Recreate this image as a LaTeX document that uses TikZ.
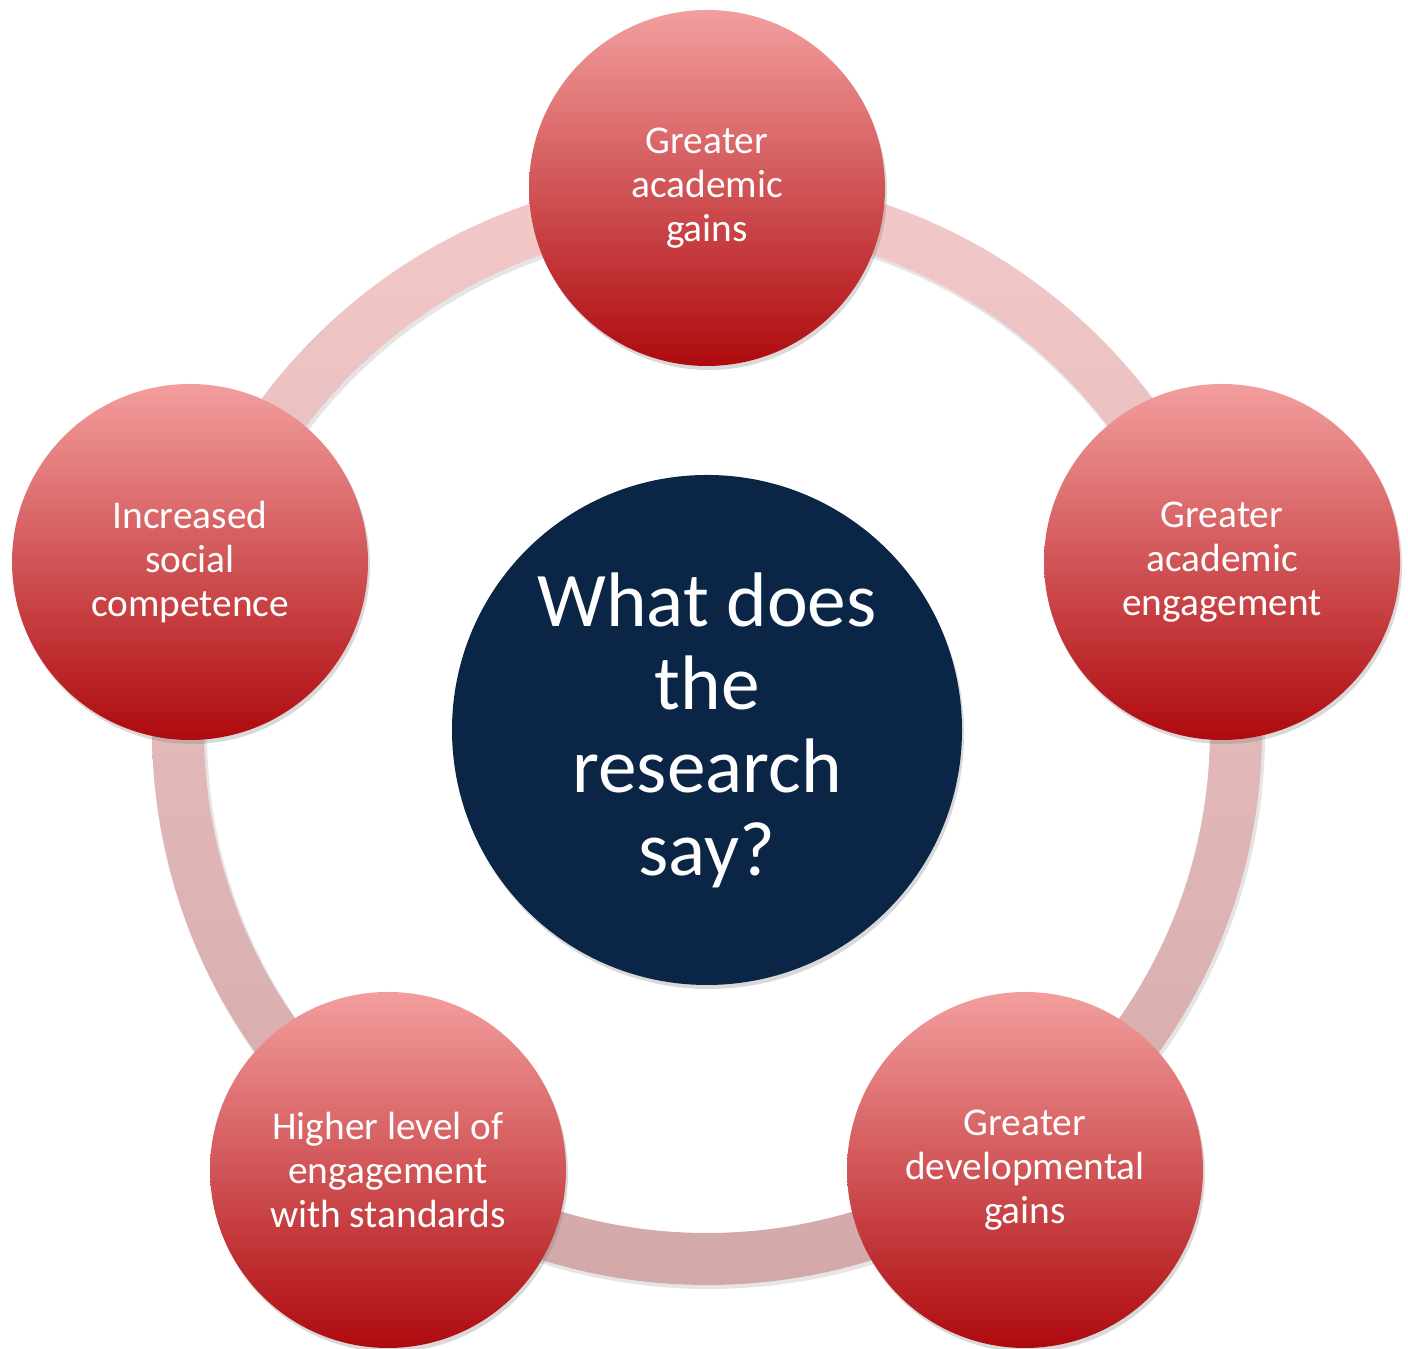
\documentclass[tikz,border=0pt]{standalone}
\usepackage{fontspec}
\setmainfont{Carlito}
\usepackage{tikz}
\usetikzlibrary{shadows}

\definecolor{navy}{HTML}{0B2546}
\definecolor{bubtop}{HTML}{F39E9E}
\definecolor{bubmid}{HTML}{DA7A7A}
\definecolor{bubbot}{HTML}{AE0A0E}
\definecolor{ringtop}{HTML}{F3C8C8}
\definecolor{ringbot}{HTML}{D2A8A8}

\tikzset{
  bubble/.style={shape=circle, minimum size=3.56cm, inner sep=0pt,
    top color=bubtop, middle color=bubmid, bottom color=bubbot,
    text=white, align=center,
    font=\fontsize{11.2}{12.5}\selectfont,
    drop shadow={shadow xshift=0.02cm, shadow yshift=-0.04cm, opacity=0.3}},
  hub/.style={shape=circle, minimum size=5.1cm, inner sep=0pt,
    fill=navy, text=white, align=center,
    font=\fontsize{22}{23.6}\selectfont,
    drop shadow={shadow xshift=0.02cm, shadow yshift=-0.04cm, opacity=0.3}}
}

\begin{document}
\begin{tikzpicture}
  \useasboundingbox (0,0) rectangle (14.08,13.49);

  % ring behind the bubbles
  \fill[black, opacity=0.1, even odd rule] (7.09,6.16) circle (5.56) circle (5.02);
  \shade[top color=ringtop, bottom color=ringbot, even odd rule] (7.07,6.19) circle (5.55) circle (5.03);

  \node[hub] (say) at (7.07,6.19) {What does\\the\\research\\say?};

  \node[bubble] (acad) at (7.07,11.61) {Greater\\academic\\gains};
  \node[bubble] (engage) at (12.22,7.87) {Greater\\academic\\engagement};
  \node[bubble] (devel) at (10.25,1.79) {Greater\\developmental\\gains};
  \node[bubble] (stand) at (3.88,1.79) {Higher level of\\engagement\\with standards};
  \node[bubble] (social) at (1.90,7.87) {Increased\\social\\competence};

\end{tikzpicture}
\end{document}
